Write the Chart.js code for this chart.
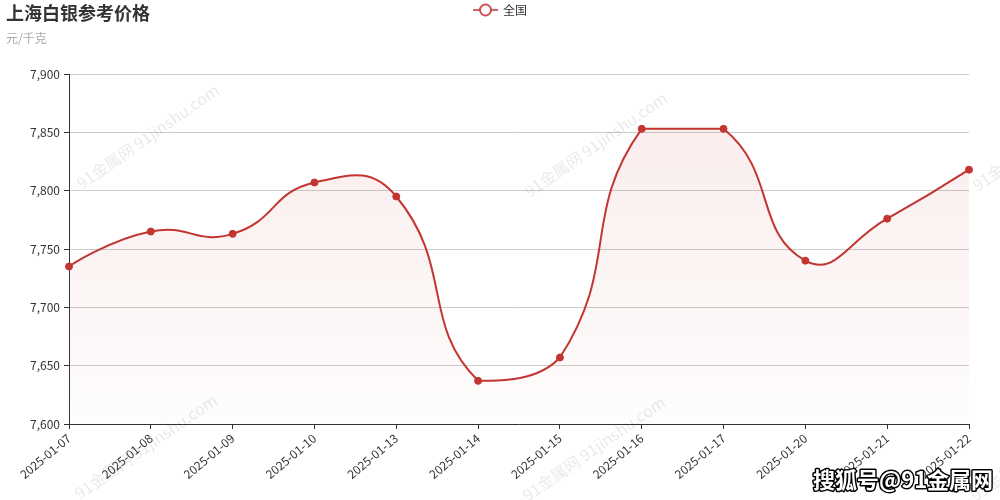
<!DOCTYPE html>
<html>
<head>
<meta charset="utf-8">
<script src="https://cdn.jsdelivr.net/npm/chart.js@4/dist/chart.umd.min.js"></script>
<style>
html,body{margin:0;padding:0;background:#fff;}
#wrap{width:1000px;height:500px;position:relative;}
</style>
</head>
<body>
<div id="wrap"><canvas id="c" width="1000" height="500"></canvas></div>
<script>
const titleText = "上海白银参考价格";
const subtitleText = "元/千克";
const seriesName = "全国";
const categories = ["2025-01-07","2025-01-08","2025-01-09","2025-01-10","2025-01-13","2025-01-14","2025-01-15","2025-01-16","2025-01-17","2025-01-20","2025-01-21","2025-01-22"];
const prices = [7735, 7765, 7763, 7807, 7795, 7637, 7657, 7853, 7853, 7740, 7776, 7818];
const yMin = 7600, yMax = 7900, yStep = 50;
const watermarkText = "91金属网 91jinshu.com";
const sourceText = "搜狐号@91金属网";

const FONT = '"Noto Sans CJK SC", "Noto Sans", sans-serif';
const RED = '#c23531';
const SMOOTH = 0.5;

// smoothing with global bounding-box constraint (no overshoot past the extreme points)
function applySmooth(chart) {
  chart.data.datasets.forEach((ds, di) => {
    const meta = chart.getDatasetMeta(di);
    const pts = meta.data;
    if (!pts || !pts.length) return;
    let minX = Infinity, minY = Infinity, maxX = -Infinity, maxY = -Infinity;
    pts.forEach(p => { minX = Math.min(minX, p.x); maxX = Math.max(maxX, p.x); minY = Math.min(minY, p.y); maxY = Math.max(maxY, p.y); });
    const cx = v => Math.min(maxX, Math.max(minX, v));
    const cy = v => Math.min(maxY, Math.max(minY, v));
    const n = pts.length;
    for (let i = 0; i < n; i++) {
      const p = pts[i];
      if (i === 0 || i === n - 1) {
        p.cp1x = p.x; p.cp1y = p.y; p.cp2x = p.x; p.cp2y = p.y;
        continue;
      }
      const a = pts[i - 1], b = pts[i + 1];
      const vx = b.x - a.x, vy = b.y - a.y;
      const d0 = Math.hypot(p.x - a.x, p.y - a.y);
      const d1 = Math.hypot(p.x - b.x, p.y - b.y);
      const r = d1 / (d0 + d1);
      p.cp1x = cx(p.x - vx * SMOOTH * (1 - r));
      p.cp1y = cy(p.y - vy * SMOOTH * (1 - r));
      p.cp2x = cx(p.x + vx * SMOOTH * r);
      p.cp2y = cy(p.y + vy * SMOOTH * r);
    }
    if (meta.dataset) { meta.dataset._pointsUpdated = true; meta.dataset._path = undefined; }
  });
}

const smoother = {
  id: 'smoother',
  afterDatasetsUpdate(chart) { applySmooth(chart); },
  beforeDatasetsDraw(chart) { applySmooth(chart); }
};

const decor = {
  id: 'decor',
  beforeDraw(chart) {
    const ctx = chart.ctx;
    ctx.save();
    ctx.fillStyle = '#fff';
    ctx.fillRect(0, 0, chart.width, chart.height);
    ctx.restore();
  },
  afterDraw(chart) {
    const ctx = chart.ctx;
    ctx.save();
    ctx.textBaseline = 'middle';
    ctx.textAlign = 'left';
    ctx.fillStyle = '#333';
    ctx.font = 'bold 18px ' + FONT;
    ctx.fillText(titleText, 6, 13);
    ctx.fillStyle = '#aaa';
    ctx.font = '12px ' + FONT;
    ctx.fillText(subtitleText, 6, 38);
    // legend
    ctx.strokeStyle = 'rgba(194,53,49,0.75)';
    ctx.lineWidth = 2;
    ctx.beginPath(); ctx.moveTo(473, 10); ctx.lineTo(498, 10); ctx.stroke();
    ctx.beginPath(); ctx.arc(485.5, 10, 5.5, 0, Math.PI * 2);
    ctx.fillStyle = '#fff'; ctx.fill();
    ctx.strokeStyle = 'rgba(194,53,49,0.85)'; ctx.stroke();
    ctx.fillStyle = '#333';
    ctx.font = '12px ' + FONT;
    ctx.fillText(seriesName, 503, 10);
    // watermarks
    ctx.fillStyle = 'rgba(0,0,0,0.09)';
    ctx.font = '16px ' + FONT;
    const spots = [[82,190],[530,198],[978,192],[80,500],[528,502],[976,502]];
    spots.forEach(([x, y]) => {
      ctx.save();
      ctx.translate(x, y);
      ctx.rotate(-35 * Math.PI / 180);
      ctx.textBaseline = 'alphabetic';
      ctx.fillText(watermarkText, 0, 0);
      ctx.restore();
    });
    // source mark
    ctx.font = 'bold 22px ' + FONT;
    ctx.textBaseline = 'middle';
    ctx.lineWidth = 3;
    ctx.strokeStyle = '#000';
    ctx.lineJoin = 'round';
    ctx.strokeText(sourceText, 813, 480);
    ctx.fillStyle = '#fff';
    ctx.fillText(sourceText, 813, 480);
    ctx.restore();
  }
};

const ctx = document.getElementById('c').getContext('2d');
new Chart(ctx, {
  type: 'line',
  data: {
    labels: categories,
    datasets: [{
      label: seriesName,
      data: prices,
      borderColor: RED,
      borderWidth: 2,
      pointRadius: 3.5,
      pointBackgroundColor: RED,
      pointBorderColor: RED,
      pointBorderWidth: 1,
      tension: 0.4,
      fill: 'start',
      backgroundColor: (c) => {
        const a = c.chart.chartArea;
        if (!a) return 'rgba(194,53,49,0.06)';
        const g = c.chart.ctx.createLinearGradient(0, a.top, 0, a.bottom);
        g.addColorStop(0, 'rgba(194,53,49,0.10)');
        g.addColorStop(1, 'rgba(194,53,49,0.01)');
        return g;
      }
    }]
  },
  options: {
    responsive: false,
    animation: false,
    layout: { padding: { top: 74, right: 31, left: 0, bottom: 0 } },
    plugins: { legend: { display: false }, title: { display: false }, tooltip: { enabled: false } },
    scales: {
      x: {
        offset: false,
        afterFit: (s) => { s.height = 76; },
        grid: { drawOnChartArea: false, tickColor: '#333', tickLength: 5 },
        border: { color: '#333', width: 1 },
        ticks: {
          color: '#333', font: { family: FONT, size: 12 },
          minRotation: 40, maxRotation: 40, autoSkip: false, padding: 2
        }
      },
      y: {
        min: yMin, max: yMax,
        afterFit: (s) => { s.width = 69; },
        grid: { color: '#ccc', tickColor: '#333', tickLength: 5 },
        border: { color: '#333', width: 1 },
        ticks: {
          stepSize: yStep, color: '#333', padding: 4,
          font: { family: FONT, size: 12 },
          callback: (v) => v.toLocaleString('en-US')
        }
      }
    }
  },
  plugins: [smoother, decor]
});
</script>
</body>
</html>
